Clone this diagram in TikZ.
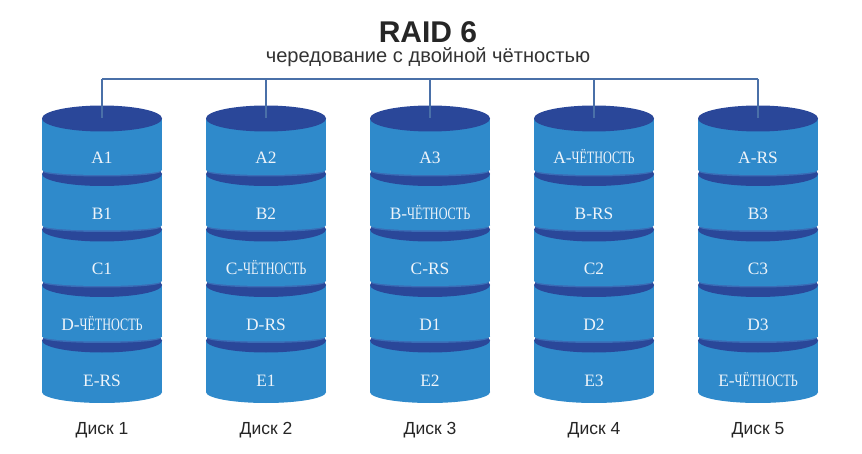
\documentclass[tikz,border=0pt]{standalone}
\usepackage{fontspec}
\setmainfont{Liberation Serif}
\setsansfont{Liberation Sans}
\definecolor{diskbody}{HTML}{2F8ACB}
\definecolor{diskcap}{HTML}{2A4799}
\definecolor{diskrim}{HTML}{3A6CB6}
\definecolor{busline}{HTML}{4A70A8}
\definecolor{seglabeltext}{HTML}{EEF4FA}
\newcommand{\chet}{\scalebox{0.7}[1]{ЧЁТНОСТЬ}}
\tikzset{
  seglabel/.style={text=seglabeltext, font=\fontsize{17.4}{20}\selectfont, inner sep=0pt, anchor=base},
  disklabel/.style={text=black!85, font=\sffamily\fontsize{17.5}{20}\selectfont, inner sep=0pt, anchor=base},
  bus/.style={draw=busline, line width=1.6pt},
}
\begin{document}
\begin{tikzpicture}[x=1pt,y=-1pt]
  \useasboundingbox (0,0) rectangle (862,454);
  \node[font=\sffamily\bfseries\fontsize{30}{33}\selectfont, text=black!85, inner sep=0pt, anchor=base] (title) at (428,43) {RAID 6};
  \node[font=\sffamily\fontsize{20.1}{23}\selectfont, text=black!80, inner sep=0pt, anchor=base] (subtitle) at (428,63) {чередование с двойной чётностью};
  % the five disks, drawn from the bottom segment up
  \foreach \d/\cx/\la/\lb/\lc/\ld/\le in {1/102/A1/B1/C1/D-\chet/E-RS, 2/266/A2/B2/C-\chet/D-RS/E1,
      3/430/A3/B-\chet/C-RS/D1/E2, 4/594/A-\chet/B-RS/C2/D2/E3, 5/758/A-RS/B3/C3/D3/E-\chet}{
    \foreach \t/\r in {340.5/12, 285/12, 229.5/12, 174/12, 118.5/13}{
      \fill[diskrim] (\cx,\t+53) ellipse (59pt and 5pt);
      \fill[diskbody] (\cx-60,\t) rectangle (\cx+60,\t+51.5);
      \fill[diskbody] (\cx,\t+51.5) ellipse (60pt and 5pt);
      \fill[diskcap] (\cx,\t) ellipse (60pt and \r pt);
    }
    \fill[diskbody] (\cx,392) ellipse (60pt and 11pt);
    \node[seglabel] (seg\d-1) at (\cx,164) {\la};
    \node[seglabel] (seg\d-2) at (\cx,219.5) {\lb};
    \node[seglabel] (seg\d-3) at (\cx,275) {\lc};
    \node[seglabel] (seg\d-4) at (\cx,330.5) {\ld};
    \node[seglabel] (seg\d-5) at (\cx,386) {\le};
    \node[disklabel] (disk\d) at (\cx,434.5) {Диск \d};
    \coordinate (bus\d) at (\cx,79);
    \coordinate (top\d) at (\cx,118.5);
    \draw[bus] (bus\d) -- (top\d);
  }
  \draw[bus] (bus1) -- (bus5);
\end{tikzpicture}
\end{document}
